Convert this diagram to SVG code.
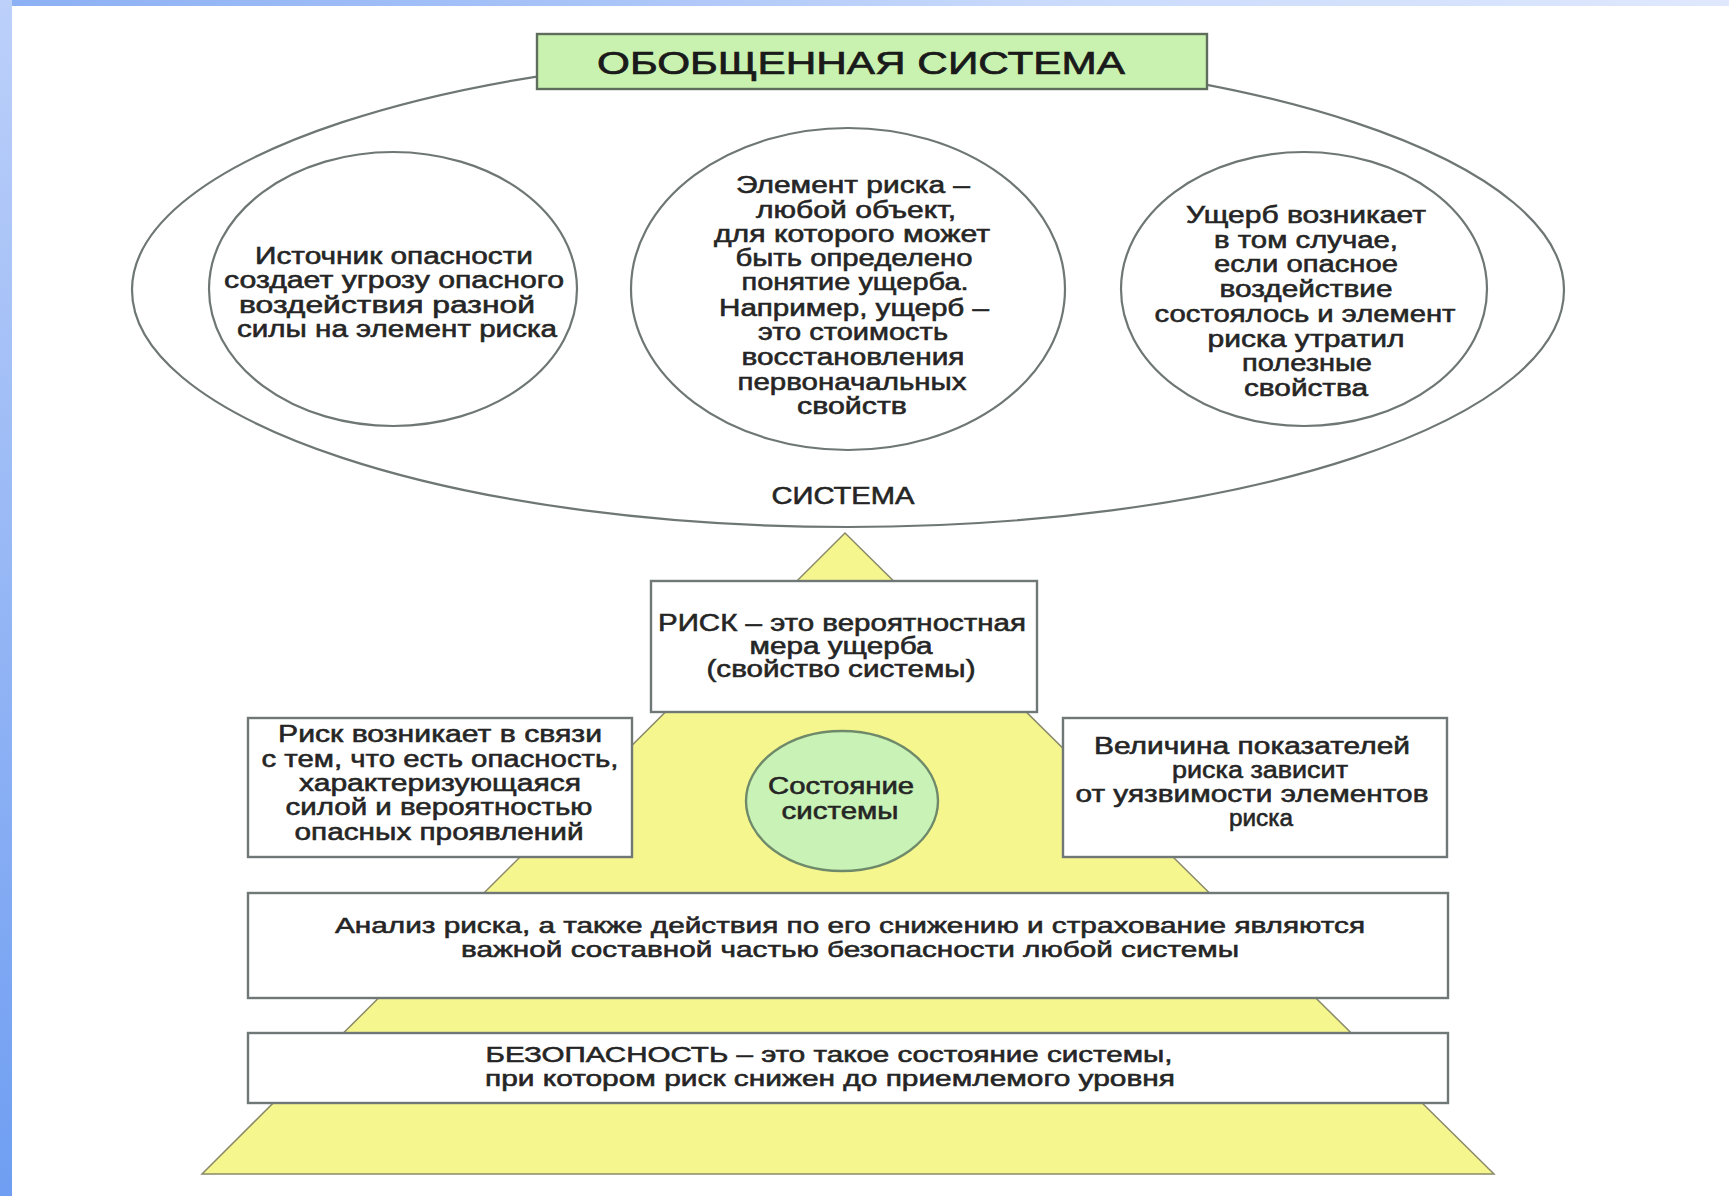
<svg xmlns="http://www.w3.org/2000/svg" width="1729" height="1196" viewBox="0 0 1729 1196">
  <defs>
    <linearGradient id="topStrip" x1="0" y1="0" x2="1" y2="0">
      <stop offset="0" stop-color="#8cb0f4"/>
      <stop offset="0.35" stop-color="#a9c4f8"/>
      <stop offset="0.6" stop-color="#c9dafc"/>
      <stop offset="1" stop-color="#dfe8fd"/>
    </linearGradient>
    <linearGradient id="leftStrip" x1="0" y1="0" x2="0" y2="1">
      <stop offset="0" stop-color="#bcd0fa"/>
      <stop offset="0.5" stop-color="#95b6f5"/>
      <stop offset="1" stop-color="#6f9ef2"/>
    </linearGradient>
    <style>
      .ln { fill: none; stroke: #6e7775; stroke-width: 2.2; }
      .wh { fill: #ffffff; stroke: #6e7775; stroke-width: 2.2; }
      .gr { fill: #c9f2b6; stroke: #6f8a6a; stroke-width: 2.4; }
      .box { fill: #ffffff; stroke: #6f7877; stroke-width: 2.4; }
      .pyr { fill: #f6f68e; stroke: #8a8a6a; stroke-width: 1.5; }
      text { font-family: "Liberation Sans", Arial, sans-serif; fill: #252525; stroke: #252525; stroke-width: 0.55; text-anchor: middle; }
      .t22 { font-size: 23px; }
      .t21 { font-size: 22px; }
      .ttl { font-size: 31px; fill: #1a1a1a; stroke: #1a1a1a; stroke-width: 0.7; }
    </style>
  </defs>

  <!-- background -->
  <rect x="0" y="0" width="1729" height="1196" fill="#ffffff"/>
  <rect x="0" y="0" width="1729" height="6" fill="url(#topStrip)"/>
  <rect x="0" y="0" width="12" height="1196" fill="url(#leftStrip)"/>

  <!-- big system ellipse -->
  <g id="system">
    <ellipse class="ln" cx="848" cy="290" rx="716" ry="237"/>
    <text class="t22" x="843" y="504" textLength="143" lengthAdjust="spacingAndGlyphs">СИСТЕМА</text>
  </g>

  <!-- title -->
  <g id="title">
    <rect x="537" y="34" width="670" height="55" fill="#c9f2b0" stroke="#5f6e5c" stroke-width="2.4"/>
    <text class="ttl" x="861" y="74" textLength="528" lengthAdjust="spacingAndGlyphs">ОБОБЩЕННАЯ СИСТЕМА</text>
  </g>

  <!-- left circle -->
  <g id="source">
    <ellipse class="wh" cx="393" cy="289" rx="184" ry="137"/>
    <text class="t22" x="394" y="264" textLength="278" lengthAdjust="spacingAndGlyphs">Источник опасности</text>
    <text class="t22" x="394" y="288" textLength="340" lengthAdjust="spacingAndGlyphs">создает угрозу опасного</text>
    <text class="t22" x="387" y="313" textLength="296" lengthAdjust="spacingAndGlyphs">воздействия разной</text>
    <text class="t22" x="397" y="337" textLength="320" lengthAdjust="spacingAndGlyphs">силы на элемент риска</text>
  </g>

  <!-- middle circle -->
  <g id="element">
    <ellipse class="wh" cx="848" cy="289" rx="217" ry="161"/>
    <text class="t22" x="853" y="193" textLength="234" lengthAdjust="spacingAndGlyphs">Элемент риска –</text>
    <text class="t22" x="856" y="218" textLength="200" lengthAdjust="spacingAndGlyphs">любой объект,</text>
    <text class="t22" x="852" y="242" textLength="276" lengthAdjust="spacingAndGlyphs">для которого может</text>
    <text class="t22" x="854" y="266" textLength="237" lengthAdjust="spacingAndGlyphs">быть определено</text>
    <text class="t22" x="855" y="290" textLength="227" lengthAdjust="spacingAndGlyphs">понятие ущерба.</text>
    <text class="t22" x="854" y="316" textLength="270" lengthAdjust="spacingAndGlyphs">Например, ущерб –</text>
    <text class="t22" x="853" y="340" textLength="190" lengthAdjust="spacingAndGlyphs">это стоимость</text>
    <text class="t22" x="853" y="365" textLength="223" lengthAdjust="spacingAndGlyphs">восстановления</text>
    <text class="t22" x="852" y="390" textLength="229" lengthAdjust="spacingAndGlyphs">первоначальных</text>
    <text class="t22" x="852" y="414" textLength="110" lengthAdjust="spacingAndGlyphs">свойств</text>
  </g>

  <!-- right circle -->
  <g id="damage">
    <ellipse class="wh" cx="1304" cy="289" rx="183" ry="137"/>
    <text class="t22" x="1306" y="223" textLength="240" lengthAdjust="spacingAndGlyphs">Ущерб возникает</text>
    <text class="t22" x="1306" y="248" textLength="184" lengthAdjust="spacingAndGlyphs">в том случае,</text>
    <text class="t22" x="1306" y="272" textLength="184" lengthAdjust="spacingAndGlyphs">если опасное</text>
    <text class="t22" x="1306" y="297" textLength="173" lengthAdjust="spacingAndGlyphs">воздействие</text>
    <text class="t22" x="1305" y="322" textLength="301" lengthAdjust="spacingAndGlyphs">состоялось и элемент</text>
    <text class="t22" x="1306" y="347" textLength="197" lengthAdjust="spacingAndGlyphs">риска утратил</text>
    <text class="t22" x="1307" y="371" textLength="130" lengthAdjust="spacingAndGlyphs">полезные</text>
    <text class="t22" x="1306" y="396" textLength="124" lengthAdjust="spacingAndGlyphs">свойства</text>
  </g>

  <!-- pyramid -->
  <g id="pyramid">
    <polygon class="pyr" points="845,533 1494,1174 202,1174"/>
  </g>

  <!-- risk box -->
  <g id="risk">
    <rect class="box" x="651" y="581" width="386" height="131"/>
    <text class="t22" x="842" y="631" textLength="368" lengthAdjust="spacingAndGlyphs">РИСК – это вероятностная</text>
    <text class="t22" x="841" y="654" textLength="183" lengthAdjust="spacingAndGlyphs">мера ущерба</text>
    <text class="t22" x="841" y="677" textLength="269" lengthAdjust="spacingAndGlyphs">(свойство системы)</text>
  </g>

  <!-- left box -->
  <g id="hazard">
    <rect class="box" x="248" y="718" width="384" height="139"/>
    <text class="t22" x="440" y="742" textLength="324" lengthAdjust="spacingAndGlyphs">Риск возникает в связи</text>
    <text class="t22" x="440" y="767" textLength="357" lengthAdjust="spacingAndGlyphs">с тем, что есть опасность,</text>
    <text class="t22" x="440" y="791" textLength="282" lengthAdjust="spacingAndGlyphs">характеризующаяся</text>
    <text class="t22" x="439" y="815" textLength="307" lengthAdjust="spacingAndGlyphs">силой и вероятностью</text>
    <text class="t22" x="439" y="840" textLength="289" lengthAdjust="spacingAndGlyphs">опасных проявлений</text>
  </g>

  <!-- right box -->
  <g id="vulnerability">
    <rect class="box" x="1063" y="718" width="384" height="139"/>
    <text class="t22" x="1252" y="754" textLength="316" lengthAdjust="spacingAndGlyphs">Величина показателей</text>
    <text class="t22" x="1260" y="778" textLength="176" lengthAdjust="spacingAndGlyphs">риска зависит</text>
    <text class="t22" x="1252" y="802" textLength="353" lengthAdjust="spacingAndGlyphs">от уязвимости элементов</text>
    <text class="t22" x="1261" y="826" textLength="64" lengthAdjust="spacingAndGlyphs">риска</text>
  </g>

  <!-- state circle -->
  <g id="state">
    <ellipse class="gr" cx="842" cy="801" rx="96" ry="70"/>
    <text class="t22" x="841" y="794" textLength="146" lengthAdjust="spacingAndGlyphs">Состояние</text>
    <text class="t22" x="840" y="819" textLength="117" lengthAdjust="spacingAndGlyphs">системы</text>
  </g>

  <!-- analysis box -->
  <g id="analysis">
    <rect class="box" x="248" y="893" width="1200" height="105"/>
    <text class="t21" x="850" y="933" textLength="1030" lengthAdjust="spacingAndGlyphs">Анализ риска, а также действия по его снижению и страхование являются</text>
    <text class="t21" x="850" y="957" textLength="778" lengthAdjust="spacingAndGlyphs">важной составной частью безопасности любой системы</text>
  </g>

  <!-- safety box -->
  <g id="safety">
    <rect class="box" x="248" y="1033" width="1200" height="70"/>
    <text class="t21" x="829" y="1062" textLength="687" lengthAdjust="spacingAndGlyphs">БЕЗОПАСНОСТЬ – это такое состояние системы,</text>
    <text class="t21" x="830" y="1086" textLength="690" lengthAdjust="spacingAndGlyphs">при котором риск снижен до приемлемого уровня</text>
  </g>
</svg>
